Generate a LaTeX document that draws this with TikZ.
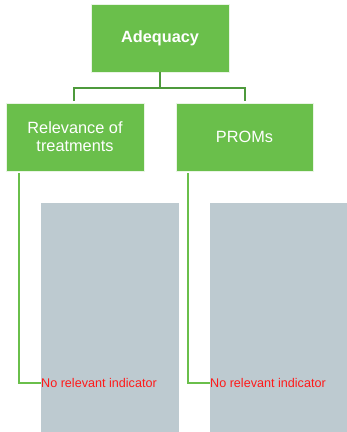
\documentclass[tikz,border=0pt]{standalone}
\usepackage{fontspec}
\setmainfont{Liberation Sans}
\definecolor{boxgreen}{HTML}{6ABF4B}
\definecolor{darkline}{HTML}{4E9A3C}
\definecolor{panelgray}{HTML}{BDCAD0}
\definecolor{redtext}{HTML}{FF1A1A}
\begin{document}
\begin{tikzpicture}[x=1pt,y=-1pt,
  gbox/.style={draw=white!85!boxgreen,line width=0.6pt,fill=boxgreen,text=white,align=center,inner sep=0pt},
  panel/.style={fill=panelgray,draw=none},
  topline/.style={draw=darkline,line width=2pt},
  subline/.style={draw=boxgreen,line width=2pt},
  lbl/.style={text=redtext,font=\fontsize{12.6}{14}\selectfont,anchor=west,inner sep=0pt}]
\useasboundingbox (0,0) rectangle (347,432);
% panels
\fill[panel] (41,203) rectangle (179,432);
\fill[panel] (210,203) rectangle (347,432);
% boxes
\node[gbox,minimum width=138pt,minimum height=68pt,font=\bfseries\fontsize{16.3}{18}\selectfont] (top) at (160,38) {Adequacy};
\node[gbox,minimum width=138pt,minimum height=68pt,font=\fontsize{16.3}{18}\selectfont] (rel) at (75,137) {Relevance of\\treatments};
\node[gbox,minimum width=137pt,minimum height=68pt,font=\fontsize{16.3}{18}\selectfont] (prom) at (244.5,137) {PROMs};
% top connectors
\coordinate (j1) at (160,87.5);
\draw[topline] (top.south) -- (j1);
\draw[topline] (74,101) |- (245,87.5) -- (245,101);
% labels
\node[lbl] (l1) at (41,383) {No relevant indicator};
\node[lbl] (l2) at (210,383) {No relevant indicator};
\draw[subline] (19,173) |- (l1.west);
\draw[subline] (188,173) |- (l2.west);
\end{tikzpicture}
\end{document}
